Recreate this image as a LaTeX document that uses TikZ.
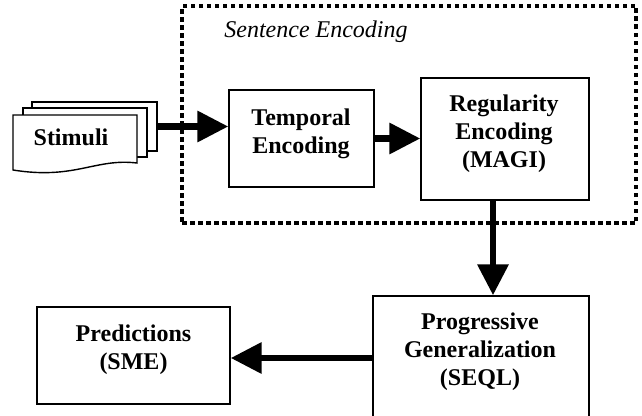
\documentclass[tikz,border=0pt]{standalone}
\usepackage{fontspec}
\setmainfont{Liberation Serif}
\usetikzlibrary{arrows.meta,calc}
\tikzset{
  box/.style={draw=black, line width=1.4pt, fill=white, rectangle, inner sep=0pt},
  sheet/.style={draw=black, line width=1.4pt, fill=white, rectangle, inner sep=0pt},
  lbl/.style={font=\fontsize{24}{28}\selectfont\bfseries, align=center, inner sep=0pt},
  ital/.style={font=\fontsize{24}{28}\selectfont\itshape, inner sep=0pt},
  flow/.style={line width=6.5pt, -{Triangle[length=31pt,width=30pt]}},
  frame/.style={draw=black, line width=4.5pt, dash pattern=on 4.5pt off 3.5pt, inner sep=0pt},
}
\begin{document}
\begin{tikzpicture}[x=1pt,y=-1pt]
\clip (0,0) rectangle (642,415);
% dotted group frame
\node[frame, minimum width=454pt, minimum height=217pt] (SE) at (409,114.5) {};
\node[ital] (tSE) at (316,32) {Sentence Encoding};
% stimuli stack
\node[sheet, minimum width=125pt, minimum height=49pt] (Sback) at (94.5,126.5) {};
\node[sheet, minimum width=124pt, minimum height=49pt] (Smid) at (85,132.5) {};
\draw[line width=1.4pt, fill=white] (13,115) -- (137,115) -- (137,163)
  .. controls (95,158) and (75,180) .. (13,170) -- cycle;
\node[lbl] (Stim) at (71,137) {Stimuli};
% boxes
\node[box, minimum width=145pt, minimum height=97pt] (T) at (301.5,138.5) {};
\node[box, minimum width=168pt, minimum height=122pt] (R) at (505,139) {};
\node[box, minimum width=216pt, minimum height=130pt] (P) at (481,361) {};
\node[box, minimum width=193pt, minimum height=97pt] (Pr) at (133.5,355.5) {};
\node[lbl] (tT) at (301,133.4) {Temporal\\Encoding};
\node[lbl] (tR) at (504,133.4) {Regularity\\Encoding\\(MAGI)};
\node[lbl] (tP) at (480,352) {Progressive\\Generalization\\(SEQL)};
\node[lbl] (tPr) at (133.5,350) {Predictions\\(SME)};
% connectors
\draw[flow] (Sback.east) -- (Sback.east -| T.west);
\draw[flow] (T.east) -- (T.east -| R.west);
\coordinate (rs) at ([xshift=-12pt]R.south);
\draw[flow] (rs) -- (rs |- P.north);
\coordinate (pe) at ([yshift=-2.5pt]Pr.east);
\draw[flow] (pe -| P.west) -- (pe);
\end{tikzpicture}
\end{document}
